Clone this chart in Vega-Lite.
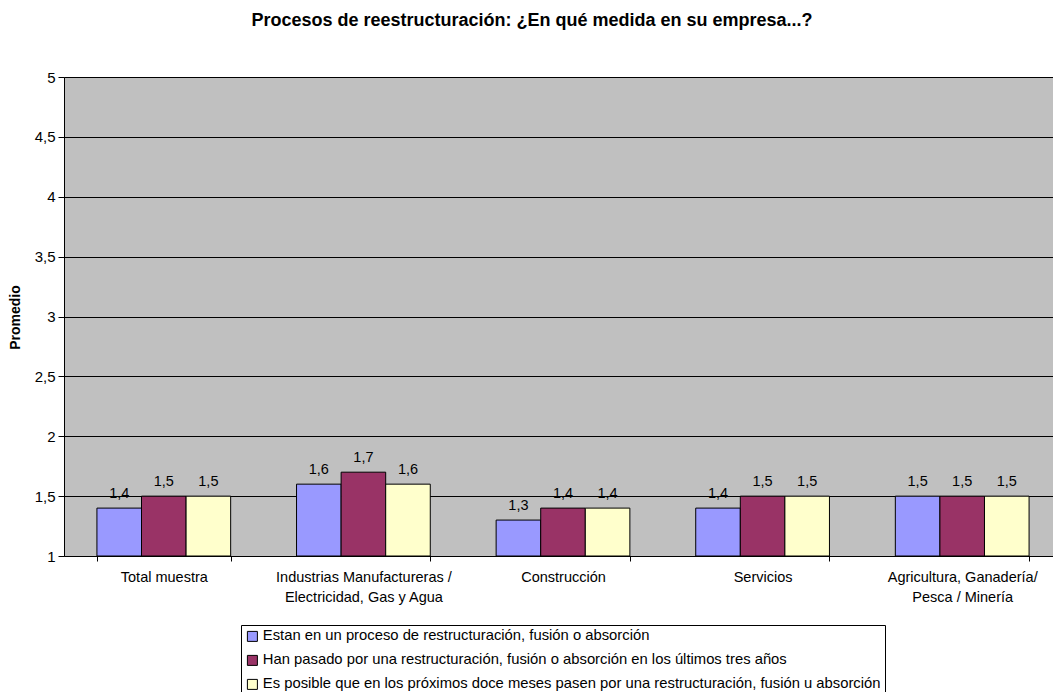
{
  "$schema": "https://vega.github.io/schema/vega-lite/v6.json",
  "autosize": "none",
  "width": 998,
  "height": 479,
  "padding": {"left": 64, "top": 77, "right": -9, "bottom": 136},
  "background": "white",
  "title": {
    "text": "Procesos de reestructuración: ¿En qué medida en su empresa...?",
    "font": "Liberation Sans",
    "fontSize": 18,
    "fontWeight": "bold",
    "color": "black",
    "anchor": "middle",
    "dx": -31,
    "offset": 40
  },
  "data": {
    "values": [
      {"categoria": "Total muestra", "serie": "Estan en un proceso de restructuración, fusión o absorción", "valor": 1.4},
      {"categoria": "Total muestra", "serie": "Han pasado por una restructuración, fusión o absorción en los últimos tres años", "valor": 1.5},
      {"categoria": "Total muestra", "serie": "Es posible que en los próximos doce meses pasen por una restructuración, fusión u absorción", "valor": 1.5},
      {"categoria": "Industrias Manufactureras / Electricidad, Gas y Agua", "serie": "Estan en un proceso de restructuración, fusión o absorción", "valor": 1.6},
      {"categoria": "Industrias Manufactureras / Electricidad, Gas y Agua", "serie": "Han pasado por una restructuración, fusión o absorción en los últimos tres años", "valor": 1.7},
      {"categoria": "Industrias Manufactureras / Electricidad, Gas y Agua", "serie": "Es posible que en los próximos doce meses pasen por una restructuración, fusión u absorción", "valor": 1.6},
      {"categoria": "Construcción", "serie": "Estan en un proceso de restructuración, fusión o absorción", "valor": 1.3},
      {"categoria": "Construcción", "serie": "Han pasado por una restructuración, fusión o absorción en los últimos tres años", "valor": 1.4},
      {"categoria": "Construcción", "serie": "Es posible que en los próximos doce meses pasen por una restructuración, fusión u absorción", "valor": 1.4},
      {"categoria": "Servicios", "serie": "Estan en un proceso de restructuración, fusión o absorción", "valor": 1.4},
      {"categoria": "Servicios", "serie": "Han pasado por una restructuración, fusión o absorción en los últimos tres años", "valor": 1.5},
      {"categoria": "Servicios", "serie": "Es posible que en los próximos doce meses pasen por una restructuración, fusión u absorción", "valor": 1.5},
      {"categoria": "Agricultura, Ganadería/ Pesca / Minería", "serie": "Estan en un proceso de restructuración, fusión o absorción", "valor": 1.5},
      {"categoria": "Agricultura, Ganadería/ Pesca / Minería", "serie": "Han pasado por una restructuración, fusión o absorción en los últimos tres años", "valor": 1.5},
      {"categoria": "Agricultura, Ganadería/ Pesca / Minería", "serie": "Es posible que en los próximos doce meses pasen por una restructuración, fusión u absorción", "valor": 1.5}
    ]
  },
  "encoding": {
    "x": {
      "field": "categoria",
      "type": "nominal",
      "sort": null,
      "scale": {"paddingInner": 0.33, "paddingOuter": 0.165},
      "axis": {
        "title": null,
        "labelAngle": 0,
        "tickBand": "extent",
        "tickSize": 5,
        "tickColor": "black",
        "domainColor": "black",
        "labelPadding": 9,
        "labelFont": "Liberation Sans",
        "labelFontSize": 14.5,
        "labelColor": "black",
        "labelLimit": 300,
        "labelLineHeight": 20,
        "labelExpr": "datum.label == 'Industrias Manufactureras / Electricidad, Gas y Agua' ? ['Industrias Manufactureras /', 'Electricidad, Gas y Agua'] : datum.label == 'Agricultura, Ganadería/ Pesca / Minería' ? ['Agricultura, Ganadería/', 'Pesca / Minería'] : datum.label"
      }
    },
    "xOffset": {
      "field": "serie",
      "type": "nominal",
      "sort": null,
      "scale": {"paddingInner": 0, "paddingOuter": 0}
    },
    "y": {
      "field": "valor",
      "type": "quantitative",
      "scale": {"domain": [1, 5], "nice": false, "zero": false},
      "axis": {
        "title": "Promedio",
        "titleFont": "Liberation Sans",
        "titleFontSize": 14,
        "titleFontWeight": "bold",
        "titleColor": "black",
        "titleX": -49,
        "titleY": 240,
        "titleAngle": -90,
        "titleBaseline": "middle",
        "titleAlign": "center",
        "values": [1, 1.5, 2, 2.5, 3, 3.5, 4, 4.5, 5],
        "format": ".1~f",
        "labelFont": "Liberation Sans",
        "labelFontSize": 15,
        "labelColor": "black",
        "labelPadding": 3,
        "tickSize": 6,
        "tickColor": "black",
        "domainColor": "black",
        "grid": true,
        "gridColor": "black",
        "gridOpacity": 1,
        "gridWidth": 1
      }
    }
  },
  "layer": [
    {
      "mark": {"type": "bar", "stroke": "black", "strokeWidth": 1},
      "encoding": {
        "y2": {"datum": 1},
        "color": {
          "field": "serie",
          "type": "nominal",
          "sort": null,
          "scale": {
            "domain": [
              "Estan en un proceso de restructuración, fusión o absorción",
              "Han pasado por una restructuración, fusión o absorción en los últimos tres años",
              "Es posible que en los próximos doce meses pasen por una restructuración, fusión u absorción"
            ],
            "range": ["#9999FF", "#993366", "#FFFFCC"]
          },
          "legend": {
            "title": null,
            "orient": "none",
            "legendX": 177,
            "legendY": 548,
            "direction": "vertical",
            "strokeColor": "black",
            "fillColor": "white",
            "padding": 4,
            "symbolType": "square",
            "symbolSize": 100,
            "symbolStrokeColor": "black",
            "symbolStrokeWidth": 1,
            "symbolOpacity": 1,
            "labelFont": "Liberation Sans",
            "labelFontSize": 14.8,
            "labelColor": "black",
            "labelLimit": 800,
            "labelOffset": 3,
            "rowPadding": 8
          }
        }
      }
    },
    {
      "mark": {
        "type": "text",
        "baseline": "alphabetic",
        "dy": -10,
        "font": "Liberation Sans",
        "fontSize": 14.5,
        "color": "black"
      },
      "encoding": {
        "text": {"field": "valor", "type": "quantitative", "format": ".1f"}
      }
    }
  ],
  "config": {
    "locale": {
      "number": {
        "decimal": ",",
        "thousands": ".",
        "grouping": [3],
        "currency": ["", " €"]
      }
    },
    "view": {"fill": "#C0C0C0", "stroke": null}
  }
}
